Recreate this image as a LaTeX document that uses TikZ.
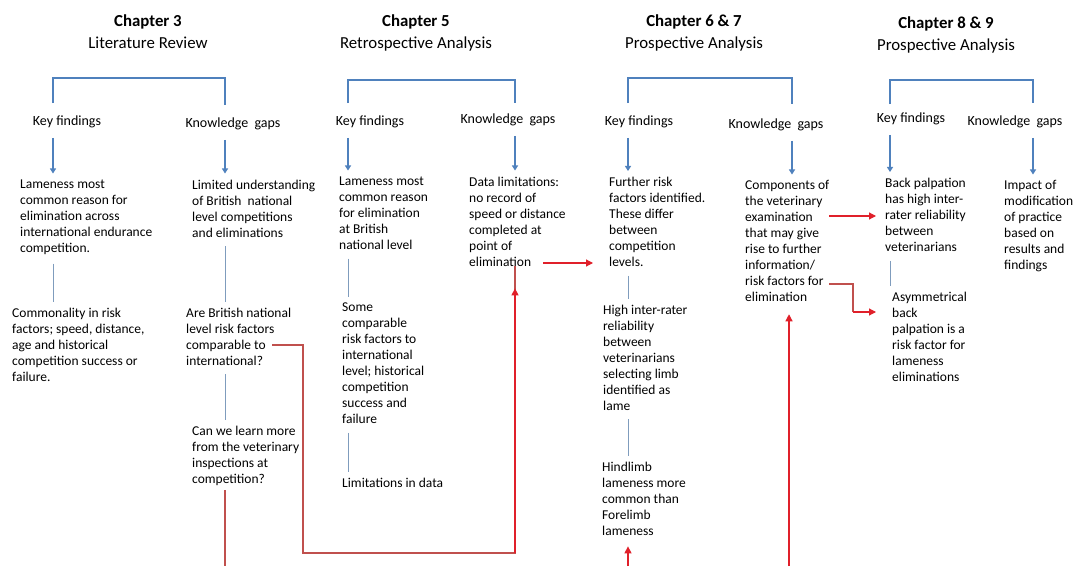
\documentclass[tikz,border=0pt]{standalone}
\usepackage{fontspec}
\setmainfont{Carlito}
\usetikzlibrary{arrows.meta}
\definecolor{barblue}{HTML}{4F81BD}
\definecolor{linkblue}{HTML}{7F9CBD}
\definecolor{redA}{HTML}{E0202A}
\definecolor{redB}{HTML}{C0504D}

\begin{document}
\begin{tikzpicture}[x=1pt,y=-1pt,
    txt/.style={anchor=north west, align=left, inner sep=0pt, yshift=-2pt, font=\fontsize{13.5}{16}\selectfont},
    lbl/.style={inner sep=0pt, yshift=-1.5pt, font=\fontsize{14}{16}\selectfont},
    head/.style={anchor=north, align=center, inner sep=0pt, font=\fontsize{16.8}{22}\selectfont},
    bar/.style={draw=barblue, line width=1.1pt},
    down/.style={bar, shorten <=10pt, shorten >=6pt, -{Triangle[width=6pt,length=5pt]}},
    link/.style={draw=linkblue, line width=1pt, shorten <=9pt, shorten >=6pt},
    redln/.style={draw=redB, line width=1.1pt},
    redarr/.style={draw=redA, line width=1.1pt, -{Triangle[width=7pt,length=7pt]}}]
  \fill[white] (0,0) rectangle (1081,565);

  \coordinate (x3a) at (53,78);
  \coordinate (x3b) at (225,78);
  \coordinate (x5a) at (348,80);
  \coordinate (x5b) at (515,80);
  \coordinate (x6a) at (628,78);
  \coordinate (x6b) at (792,78);
  \coordinate (x8a) at (890,80);
  \coordinate (x8b) at (1033,80);
  \coordinate (bot) at (0,566);

  \node[head] (h3) at (148,15) {\textbf{Chapter 3}\\Literature Review};
  \node[head] (h5) at (416,15) {\textbf{Chapter 5}\\Retrospective Analysis};
  \node[head] (h6) at (694,15) {\textbf{Chapter 6 \& 7}\\Prospective Analysis};
  \node[head] (h8) at (946,17) {\textbf{Chapter 8 \& 9}\\Prospective Analysis};

  \node[lbl] (kf3) at (67,120) {Key findings};
  \node[lbl] (kg3) at (233,122) {Knowledge\ \ gaps};
  \node[lbl] (kf5) at (370,120) {Key findings};
  \node[lbl] (kg5) at (508,118) {Knowledge\ \ gaps};
  \node[lbl] (kf6) at (639,120) {Key findings};
  \node[lbl] (kg6) at (776,123) {Knowledge\ \ gaps};
  \node[lbl] (kf8) at (911,117) {Key findings};
  \node[lbl] (kg8) at (1015,120) {Knowledge\ \ gaps};

  \node[txt] (a1) at (20,177.5) {Lameness most\\common reason for\\elimination across\\international endurance\\competition.};
  \node[txt] (a2) at (12,305.5) {Commonality in risk\\factors; speed, distance,\\age and historical\\competition success or\\failure.};
  \node[txt] (b1) at (192,177.5) {Limited understanding\\of British\ \ national\\level competitions\\and eliminations};
  \node[txt] (b2) at (186,305.5) {Are British national\\level risk factors\\comparable to\\international?};
  \node[txt] (b3) at (192,423.5) {Can we learn more\\from the veterinary\\inspections at\\competition?};

  \node[txt] (c1) at (339,174.5) {Lameness most\\common reason\\for elimination\\at British\\national level};
  \node[txt] (c2) at (342,300.5) {Some\\comparable\\risk factors to\\international\\level; historical\\competition\\success and\\failure};
  \node[txt] (c3) at (342,475.5) {Limitations in data};
  \node[txt] (d1) at (469,174.5) {Data limitations:\\no record of\\speed or distance\\completed at\\point of\\elimination};

  \node[txt] (e1) at (609,175) {Further risk\\factors identified.\\These differ\\between\\competition\\levels.};
  \node[txt] (e2) at (603,302.5) {High inter-rater\\reliability\\between\\veterinarians\\selecting limb\\identified as\\lame};
  \node[txt] (e3) at (602,459.5) {Hindlimb\\lameness more\\common than\\Forelimb\\lameness};
  \node[txt] (f1) at (745,178.5) {Components of\\the veterinary\\examination\\that may give\\rise to further\\information/\\risk factors for\\elimination};

  \node[txt] (g1) at (885,176) {Back palpation\\has high inter-\\rater reliability\\between\\veterinarians};
  \node[txt] (g2) at (892,289.5) {Asymmetrical\\back\\palpation is a\\risk factor for\\lameness\\eliminations};
  \node[txt] (i1) at (1004,178.5) {Impact of\\modification\\of practice\\based on\\results and\\findings};

  \draw[bar] ([yshift=12pt]kf3.north -| x3a) -- (x3a) -- (x3b) -- ([yshift=12pt]kg3.north -| x3b);
  \draw[bar] ([yshift=12pt]kf5.north -| x5a) -- (x5a) -- (x5b) -- ([yshift=10pt]kg5.north -| x5b);
  \draw[bar] ([yshift=12pt]kf6.north -| x6a) -- (x6a) -- (x6b) -- ([yshift=14pt]kg6.north -| x6b);
  \draw[bar] ([yshift=8pt]kf8.north -| x8a) -- (x8a) -- (x8b) -- ([yshift=12pt]kg8.north -| x8b);

  \draw[down] (kf3.south -| x3a) -- (a1.north -| x3a);
  \draw[down] (kg3.south -| x3b) -- (b1.north -| x3b);
  \draw[down] (kf5.south -| x5a) -- (c1.north -| x5a);
  \draw[down] (kg5.south -| x5b) -- (d1.north -| x5b);
  \draw[down] (kf6.south -| x6a) -- (e1.north -| x6a);
  \draw[down] (kg6.south -| x6b) -- (f1.north -| x6b);
  \draw[down] (kf8.south -| x8a) -- (g1.north -| x8a);
  \draw[down] (kg8.south -| x8b) -- (i1.north -| x8b);

  \draw[link] (a1.south -| x3a) -- (a2.north -| x3a);
  \draw[link] (b1.south -| x3b) -- (b2.north -| x3b);
  \draw[link] (b2.south -| x3b) -- (b3.north -| x3b);
  \draw[link] (c1.south -| x5a) -- (c2.north -| x5a);
  \draw[link] (c2.south -| x5a) -- (c3.north -| x5a);
  \draw[link] (e1.south -| x6a) -- (e2.north -| x6a);
  \draw[link] (e2.south -| x6a) -- (e3.north -| x6a);
  \draw[link] (g1.south -| x8a) -- (g2.north -| x8a);

  \coordinate (s1) at (272,345);
  \coordinate (k1) at (303,553);
  \coordinate (s2) at (543,263);
  \coordinate (x6c) at (789,566);
  \coordinate (s3) at (829,216);
  \coordinate (s4) at (829,284);
  \coordinate (k2) at (853,312);

  \draw[redln] (s1) -| (k1) -| (x5b |- d1.south);
  \draw[redarr, shorten >=22pt] (k1 -| x5b) -- (x5b |- d1.south);
  \draw[redln, shorten <=5pt] (b3.south -| x3b) -- (x3b |- bot);
  \draw[redarr, shorten >=16pt] (s2) -- (s2 -| e1.west);
  \draw[redarr, shorten >=11pt] (x6a |- bot) -- (e3.south -| x6a);
  \draw[redarr, shorten >=12pt] (x6c) -- (f1.south -| x6c);
  \draw[redarr, shorten >=9pt] (s3) -- (s3 -| g1.west);
  \draw[redln] (s4) -| (k2);
  \draw[redarr, shorten >=16pt] (k2) -- (k2 -| g2.west);
\end{tikzpicture}
\end{document}
